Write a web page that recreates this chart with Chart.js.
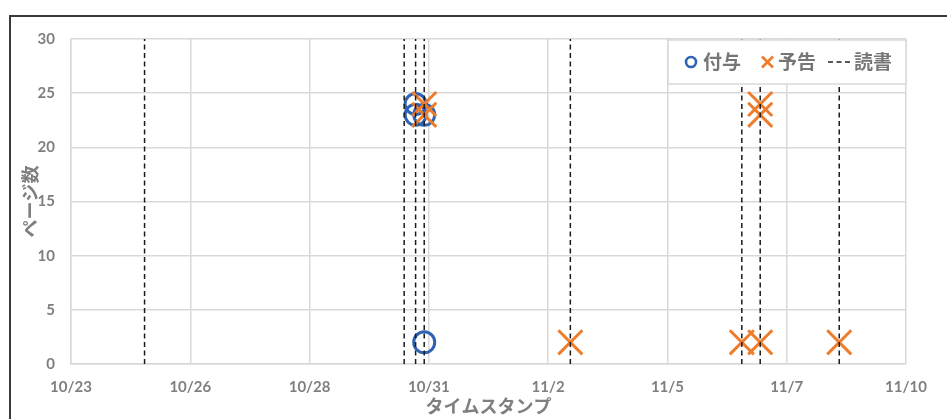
<!DOCTYPE html>
<html>
<head>
<meta charset="utf-8">
<script src="https://cdn.jsdelivr.net/npm/chart.js@4.4.1/dist/chart.umd.min.js"></script>
<style>
  html, body { margin: 0; padding: 0; background: #fff; overflow: hidden; }
  #wrap { position: relative; width: 947px; height: 419px; }
</style>
</head>
<body>
<div id="wrap"><canvas id="c" width="947" height="419"></canvas></div>
<script>
// Time axis: values are days counted from 10/23 00:00
const xTickValues = [0.5, 3, 5.5, 8, 10.5, 13, 15.5, 18];
const xTickLabels = ['10/23', '10/26', '10/28', '10/31', '11/2', '11/5', '11/7', '11/10'];
const yTickStep = 5;

// 付与 (granted)
const grantTimes = ['10/30 17:20', '10/30 17:20', '10/30 21:40', '10/30 21:40'];
const grantPages = [24, 23, 23, 2];

// 予告 (notice)
const noticeTimes = ['10/30 21:40', '10/30 21:40', '11/2 23:10', '11/6 13:25', '11/6 22:40', '11/6 22:40', '11/6 22:40', '11/8 14:25'];
const noticePages = [24, 23, 2, 2, 24, 23, 2, 2];

// 読書 (reading sessions) - drawn as vertical dashed lines
const readTimes = ['10/25 01:00', '10/30 11:35', '10/30 17:20', '10/30 21:40', '11/2 23:10', '11/6 13:25', '11/6 22:40', '11/8 14:25'];
const readLineTop = 30;

const BLUE = '#2E63B4';
const ORANGE = '#EE7D2B';
const GRAY = '#7f7f7f';
const GRID = '#d9d9d9';
const NUM_FONT = "Lato, 'Noto Sans CJK JP', sans-serif";
const JP_FONT = "'Noto Sans CJK JP', sans-serif";

function toDays(s) {
  const [md, hm] = s.split(' ');
  const [m, d] = md.split('/').map(Number);
  const [h, mi] = hm.split(':').map(Number);
  const dayIndex = m === 10 ? d - 23 : d + 8;
  return dayIndex + (h + mi / 60) / 24;
}

const grantData = grantTimes.map((t, i) => ({ x: toDays(t), y: grantPages[i] }));
const noticeData = noticeTimes.map((t, i) => ({ x: toDays(t), y: noticePages[i] }));
const readData = [];
readTimes.forEach(t => {
  const x = toDays(t);
  readData.push({ x, y: 0 }, { x, y: readLineTop }, { x, y: null });
});

const frameAndLegend = {
  id: 'frameAndLegend',
  afterDraw(chart) {
    const ctx = chart.ctx;
    const a = chart.chartArea;
    ctx.save();
    // outer frame
    ctx.strokeStyle = '#3a3a3a';
    ctx.lineWidth = 2;
    ctx.beginPath();
    ctx.moveTo(10, chart.height);
    ctx.lineTo(10, 16);
    ctx.lineTo(chart.width, 16);
    ctx.stroke();

    // legend box
    const w = 238, h = 44;
    const bx = a.right - w, by = a.top + 1;
    ctx.fillStyle = '#fff';
    ctx.fillRect(bx, by, w, h);
    ctx.strokeStyle = GRID;
    ctx.lineWidth = 1.5;
    ctx.strokeRect(bx, by, w, h);
    const cy = by + 22;

    ctx.strokeStyle = BLUE;
    ctx.lineWidth = 2.6;
    ctx.beginPath();
    ctx.arc(bx + 23, cy, 5, 0, Math.PI * 2);
    ctx.stroke();

    ctx.strokeStyle = ORANGE;
    ctx.lineWidth = 2.6;
    ctx.beginPath();
    ctx.moveTo(bx + 94, cy - 5.5); ctx.lineTo(bx + 105, cy + 5.5);
    ctx.moveTo(bx + 105, cy - 5.5); ctx.lineTo(bx + 94, cy + 5.5);
    ctx.stroke();

    ctx.strokeStyle = '#222';
    ctx.lineWidth = 1.5;
    ctx.setLineDash([5, 3.5]);
    ctx.beginPath();
    ctx.moveTo(bx + 160, cy); ctx.lineTo(bx + 182, cy);
    ctx.stroke();
    ctx.setLineDash([]);

    ctx.fillStyle = '#767676';
    ctx.font = 'bold 19px ' + JP_FONT;
    ctx.textBaseline = 'middle';
    ctx.textAlign = 'left';
    ctx.fillText('付与', bx + 35, cy);
    ctx.fillText('予告', bx + 110, cy);
    ctx.fillText('読書', bx + 186, cy);
    ctx.restore();
  }
};

new Chart(document.getElementById('c'), {
  type: 'scatter',
  data: {
    datasets: [
      {
        label: '読書',
        data: readData,
        showLine: true,
        spanGaps: false,
        borderColor: '#1a1a1a',
        borderWidth: 1.5,
        borderDash: [5, 3.5],
        pointRadius: 0,
        pointHoverRadius: 0
      },
      {
        label: '予告',
        data: noticeData,
        pointStyle: 'crossRot',
        pointRadius: 17,
        pointBorderWidth: 3,
        borderColor: ORANGE,
        backgroundColor: ORANGE
      },
      {
        label: '付与',
        data: grantData,
        pointStyle: 'circle',
        pointRadius: 10.5,
        pointBorderWidth: 3,
        borderColor: BLUE,
        backgroundColor: 'rgba(0,0,0,0)'
      }
    ]
  },
  options: {
    responsive: false,
    animation: false,
    events: [],
    layout: { padding: { left: 0, right: 41, top: 39, bottom: 0 } },
    plugins: { legend: { display: false }, tooltip: { enabled: false } },
    scales: {
      x: {
        type: 'linear',
        min: xTickValues[0],
        max: xTickValues[xTickValues.length - 1],
        afterBuildTicks: s => { s.ticks = xTickValues.map(v => ({ value: v })); },
        afterFit: s => { s.height = 55; },
        grid: { color: GRID, lineWidth: 1.5, drawTicks: false },
        border: { color: GRID, width: 1.5 },
        ticks: {
          autoSkip: false,
          maxRotation: 0,
          padding: 14,
          color: GRAY,
          font: { family: NUM_FONT, size: 15, weight: 'bold' },
          callback: (v, i) => xTickLabels[i]
        },
        title: {
          display: true,
          text: 'タイムスタンプ',
          color: GRAY,
          font: { family: JP_FONT, size: 18, weight: 'bold' },
          padding: { top: 0, bottom: 2 }
        }
      },
      y: {
        min: 0,
        max: 30,
        afterFit: s => { s.width = 71; },
        grid: { color: GRID, lineWidth: 1.5, drawTicks: false },
        border: { color: GRID, width: 1.5 },
        ticks: {
          stepSize: yTickStep,
          padding: 16,
          color: GRAY,
          font: { family: NUM_FONT, size: 15, weight: 'bold' }
        },
        title: {
          display: true,
          text: 'ページ数',
          color: GRAY,
          font: { family: JP_FONT, size: 18, weight: 'bold' },
          padding: { top: 19, bottom: 0 }
        }
      }
    }
  },
  plugins: [frameAndLegend]
});
</script>
</body>
</html>
